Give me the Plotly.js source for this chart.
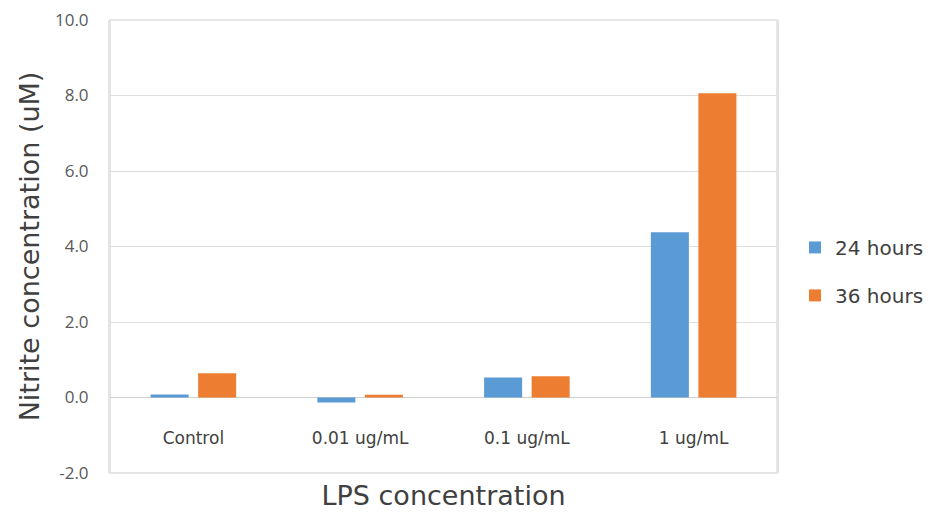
<!DOCTYPE html>
<html>
<head>
<meta charset="utf-8">
<script src="https://cdn.plot.ly/plotly-3.0.1.min.js"></script>
<style>
  html, body { margin: 0; padding: 0; background: #ffffff; }
  #chart { width: 944px; height: 519px; }
</style>
</head>
<body>
<div id="chart"></div>
<script>
// LPS dose groups along the category axis
const categories = ['Control', '0.01 ug/mL', '0.1 ug/mL', '1 ug/mL'];
// Nitrite concentration (uM) per series
const series24h = [0.08, -0.13, 0.53, 4.38];
const series36h = [0.64, 0.07, 0.56, 8.06];
const seriesNames = ['24 hours', '36 hours'];
// Value axis ticks
const yTickVals = [-2, 0, 2, 4, 6, 8, 10];
const yTickText = ['-2.0', '0.0', '2.0', '4.0', '6.0', '8.0', '10.0'];

const yRange = [-2, 10];
// Category axis sits on the zero line, as a fraction of the plot height
const zeroPos = (0 - yRange[0]) / (yRange[1] - yRange[0]);

const comic = 'DejaVu Sans, sans-serif';

const traces = [
  {
    type: 'bar', name: seriesNames[0], x: categories, y: series24h,
    marker: { color: '#5b9bd5' }, legendgroup: 'a', hoverinfo: 'x+y'
  },
  {
    type: 'bar', name: seriesNames[1], x: categories, y: series36h,
    marker: { color: '#ed7d31' }, legendgroup: 'b', hoverinfo: 'x+y'
  }
];

const layout = {
  width: 944, height: 519,
  paper_bgcolor: '#ffffff', plot_bgcolor: '#ffffff',
  margin: { l: 110, r: 167, t: 20, b: 46 },
  barmode: 'group', bargap: 0.43, bargroupgap: 0.2,
  showlegend: true,
  legend: {
    x: 1.027, xanchor: 'left', y: 0.445, yanchor: 'middle',
    traceorder: 'grouped', tracegroupgap: 19,
    font: { family: comic, size: 20, color: '#404040' },
    bgcolor: 'rgba(0,0,0,0)'
  },
  xaxis: {
    type: 'category', anchor: 'free', position: zeroPos,
    showline: false, showgrid: false, zeroline: false,
    ticks: 'outside', ticklen: 25, tickcolor: 'rgba(0,0,0,0)',
    tickfont: { family: comic, size: 17, color: '#404040' },
    title: { text: 'LPS concentration', standoff: 39,
             font: { family: comic, size: 27, color: '#404040' } },
    fixedrange: true
  },
  yaxis: {
    range: yRange, tickvals: yTickVals, ticktext: yTickText,
    showgrid: true, gridcolor: '#dedede', gridwidth: 1,
    zeroline: true, zerolinecolor: '#cfcfcf', zerolinewidth: 1.5,
    showline: true, linecolor: '#e3e3e3', linewidth: 2, mirror: true,
    ticks: 'outside', ticklen: 16, tickcolor: 'rgba(0,0,0,0)',
    tickfont: { family: 'Open Sans, sans-serif', size: 17, color: '#595959' },
    title: { text: 'Nitrite concentration (uM)', standoff: 8,
             font: { family: comic, size: 27, color: '#404040' } },
    fixedrange: true
  },
  shapes: [
    // light frame around the plotting area
    { type: 'rect', xref: 'paper', yref: 'paper', x0: 0, x1: 1, y0: 0, y1: 1,
      line: { color: '#e6e6e6', width: 2 }, layer: 'below' }
  ]
};

Plotly.newPlot('chart', traces, layout, { staticPlot: true, displayModeBar: false });
</script>
</body>
</html>
